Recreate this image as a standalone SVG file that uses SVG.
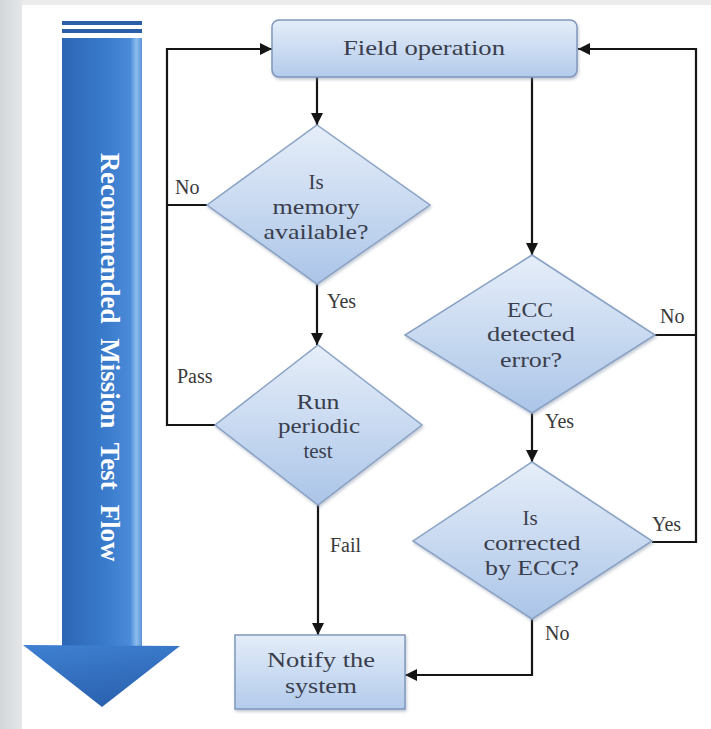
<svg xmlns="http://www.w3.org/2000/svg" width="711" height="729" viewBox="0 0 711 729">
  <defs>
    <linearGradient id="shapeFill" x1="0" y1="0" x2="0" y2="1">
      <stop offset="0" stop-color="#e6eef9"/>
      <stop offset="1" stop-color="#abc5e8"/>
    </linearGradient>
    <linearGradient id="boxFill" x1="0" y1="0" x2="0" y2="1">
      <stop offset="0" stop-color="#e4edf9"/>
      <stop offset="1" stop-color="#b3cbeb"/>
    </linearGradient>
    <linearGradient id="shaftFill" x1="0" y1="0" x2="1" y2="0">
      <stop offset="0" stop-color="#2c66b4"/>
      <stop offset="0.55" stop-color="#3a7bcc"/>
      <stop offset="0.85" stop-color="#4a8ad8"/>
      <stop offset="0.93" stop-color="#8dbdee"/>
      <stop offset="1" stop-color="#5a94d6"/>
    </linearGradient>
    <linearGradient id="headFill" x1="0" y1="0" x2="0.3" y2="1">
      <stop offset="0" stop-color="#3f80d2"/>
      <stop offset="1" stop-color="#2b63b0"/>
    </linearGradient>
    <linearGradient id="sideFill" x1="0" y1="0" x2="1" y2="0">
      <stop offset="0" stop-color="#d3d7da"/>
      <stop offset="1" stop-color="#e4e6e8"/>
    </linearGradient>
    <filter id="soft" x="-10%" y="-10%" width="130%" height="140%">
      <feDropShadow dx="1" dy="2" stdDeviation="1.5" flood-color="#7a8aa0" flood-opacity="0.45"/>
    </filter>
    <marker id="arrow" viewBox="0 0 12 12" refX="12" refY="6" markerWidth="12" markerHeight="12" markerUnits="userSpaceOnUse" orient="auto">
      <path d="M0,0 L12,6 L0,12 Z" fill="#151515"/>
    </marker>
    <style>
      .shape { fill: url(#shapeFill); stroke: #8aa2c4; stroke-width: 1.5; filter: url(#soft); }
      .box { fill: url(#boxFill); stroke: #8098bc; stroke-width: 1.5; filter: url(#soft); }
      .label { font-family: "Liberation Serif", "Times New Roman", serif; font-size: 21px; fill: #3a3e4c; text-anchor: middle; }
      .edge { font-family: "Liberation Serif", "Times New Roman", serif; font-size: 20px; fill: #3a3a3a; }
      .line { fill: none; stroke: #151515; stroke-width: 2.2; }
      .title { font-family: "Liberation Serif", "Times New Roman", serif; font-size: 27px; font-weight: bold; fill: #ffffff; text-anchor: middle; word-spacing: 8px; }
    </style>
  </defs>

  <!-- page background -->
  <rect x="0" y="0" width="711" height="729" fill="#ffffff"/>
  <rect x="0" y="0" width="711" height="5" fill="#ebebeb"/>
  <rect x="0" y="0" width="22" height="729" fill="url(#sideFill)"/>

  <!-- flow direction arrow -->
  <g id="flow-arrow">
    <rect x="62" y="21" width="80" height="4" fill="#2c5fa8"/>
    <rect x="62" y="29" width="80" height="4" fill="#2c5fa8"/>
    <rect x="62" y="38" width="80" height="608" fill="url(#shaftFill)"/>
    <path d="M23,645 L180,646 L102,707 Z" fill="url(#headFill)"/>
    <text class="title" transform="translate(101,357) rotate(90)">Recommended Mission Test Flow</text>
  </g>

  <!-- connectors -->
  <g id="connectors">
    <path class="line" d="M317,77 V125" marker-end="url(#arrow)"/>
    <path class="line" d="M317,283 V345" marker-end="url(#arrow)"/>
    <path class="line" d="M318,505 V635" marker-end="url(#arrow)"/>
    <path class="line" d="M207,205 H167"/>
    <path class="line" d="M215,425 H167 V49 H272" marker-end="url(#arrow)"/>
    <path class="line" d="M532,77 V255" marker-end="url(#arrow)"/>
    <path class="line" d="M532,413 V462" marker-end="url(#arrow)"/>
    <path class="line" d="M655,335 H696"/>
    <path class="line" d="M652,542 H696 V49 H578" marker-end="url(#arrow)"/>
    <path class="line" d="M532,619 V675 H405" marker-end="url(#arrow)"/>
    <text class="edge" x="175" y="194">No</text>
    <text class="edge" x="327" y="308">Yes</text>
    <text class="edge" x="177" y="383">Pass</text>
    <text class="edge" x="330" y="552">Fail</text>
    <text class="edge" x="660" y="323">No</text>
    <text class="edge" x="545" y="428">Yes</text>
    <text class="edge" x="652" y="531">Yes</text>
    <text class="edge" x="545" y="640">No</text>
  </g>

  <g id="field-operation">
    <rect class="box" x="272" y="20" width="305" height="57" rx="7"/>
    <text class="label" x="424" y="55" textLength="162" lengthAdjust="spacingAndGlyphs">Field operation</text>
  </g>

  <g id="memory-available">
    <path class="shape" d="M317,125 L430,205 L317,284 L207,205 Z"/>
    <text class="label" x="316" y="189">Is</text>
    <text class="label" x="316" y="214" textLength="87" lengthAdjust="spacingAndGlyphs">memory</text>
    <text class="label" x="316" y="239" textLength="105" lengthAdjust="spacingAndGlyphs">available?</text>
  </g>

  <g id="periodic-test">
    <path class="shape" d="M318,345 L422,425 L318,505 L215,425 Z"/>
    <text class="label" x="318" y="409" textLength="43" lengthAdjust="spacingAndGlyphs">Run</text>
    <text class="label" x="319" y="433" textLength="82" lengthAdjust="spacingAndGlyphs">periodic</text>
    <text class="label" x="318" y="458">test</text>
  </g>

  <g id="ecc-detected">
    <path class="shape" d="M532,255 L655,335 L532,413 L405,335 Z"/>
    <text class="label" x="530" y="317" textLength="46" lengthAdjust="spacingAndGlyphs">ECC</text>
    <text class="label" x="531" y="341" textLength="88" lengthAdjust="spacingAndGlyphs">detected</text>
    <text class="label" x="531" y="367" textLength="62" lengthAdjust="spacingAndGlyphs">error?</text>
  </g>

  <g id="corrected-by-ecc">
    <path class="shape" d="M532,462 L652,541 L532,619 L413,541 Z"/>
    <text class="label" x="530" y="525">Is</text>
    <text class="label" x="532" y="550" textLength="97" lengthAdjust="spacingAndGlyphs">corrected</text>
    <text class="label" x="532" y="575" textLength="94" lengthAdjust="spacingAndGlyphs">by ECC?</text>
  </g>

  <g id="notify-system">
    <rect class="box" x="235" y="635" width="170" height="74"/>
    <text class="label" x="321" y="667" textLength="108" lengthAdjust="spacingAndGlyphs">Notify the</text>
    <text class="label" x="321" y="693" textLength="72" lengthAdjust="spacingAndGlyphs">system</text>
  </g>
</svg>
